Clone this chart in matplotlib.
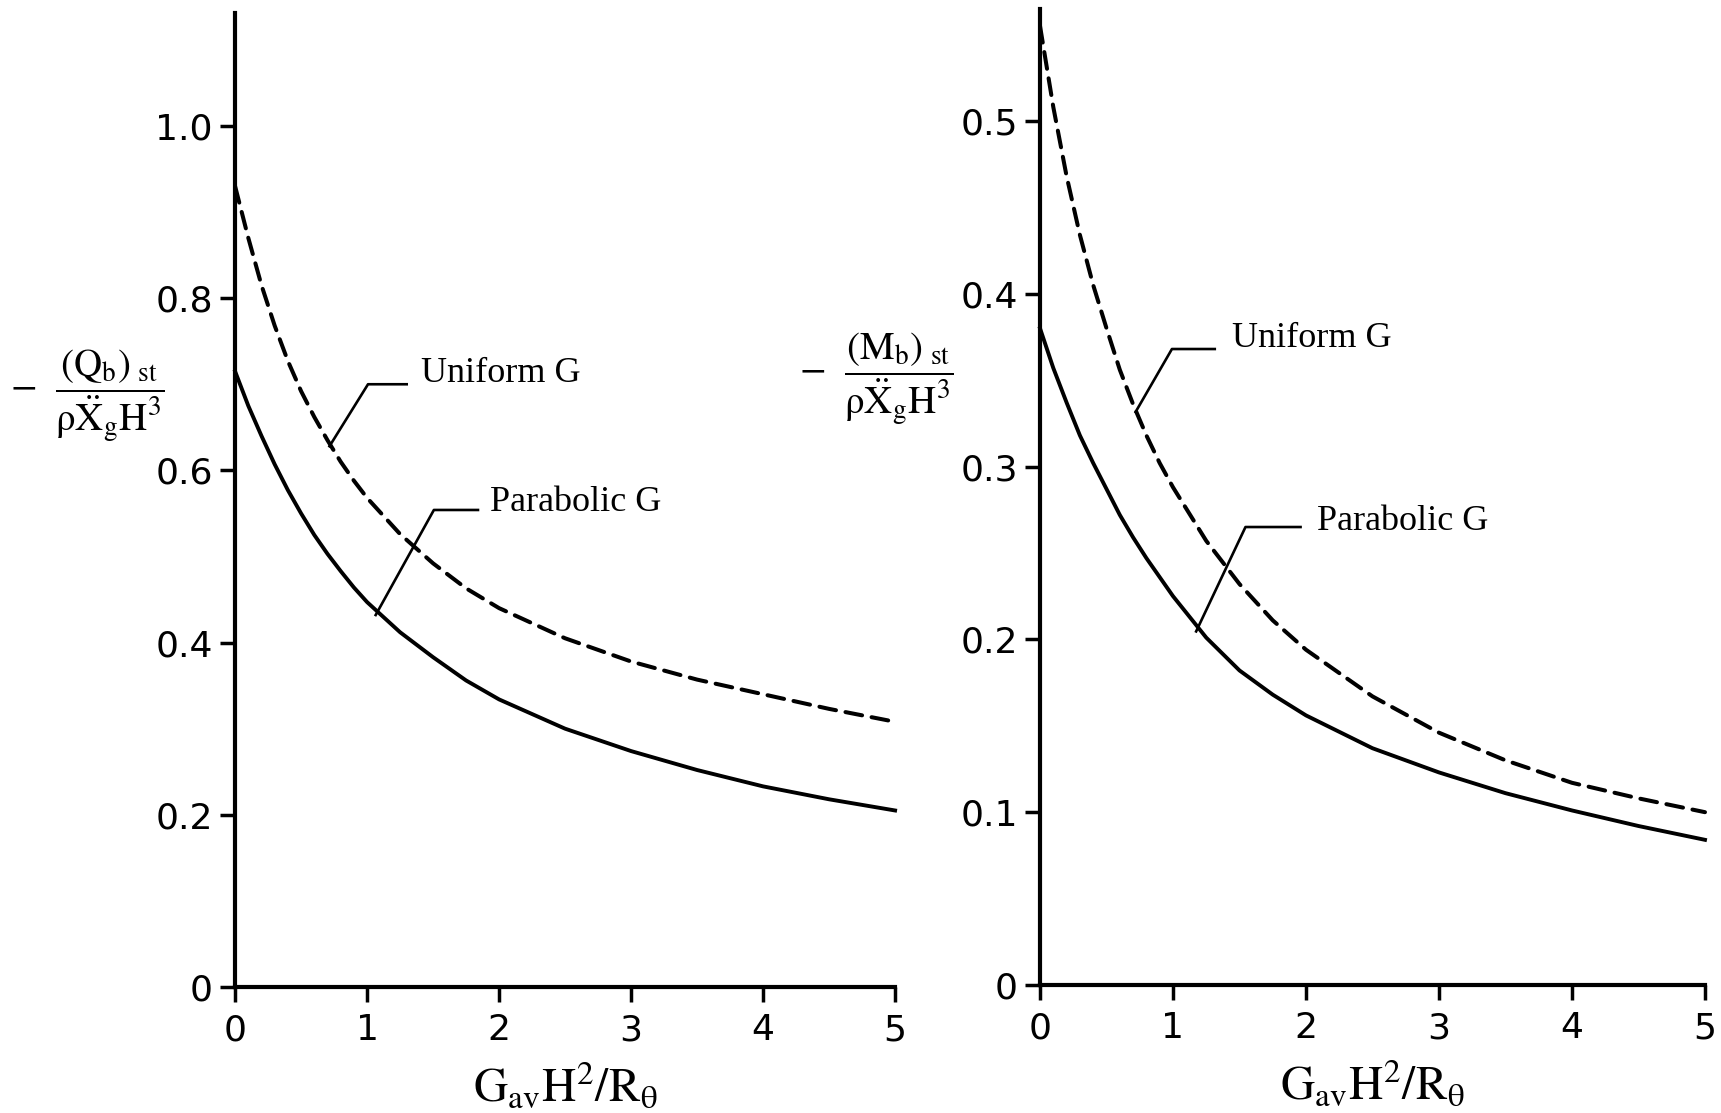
"""Static base shear and moment vs. wall flexibility, uniform and parabolic G."""

import matplotlib
matplotlib.use("Agg")
import matplotlib.pyplot as plt

plt.rcParams["mathtext.fontset"] = "stix"
plt.rcParams["mathtext.default"] = "rm"

X = [0, 0.1, 0.2, 0.3, 0.4, 0.5, 0.6, 0.7, 0.8, 0.9, 1.0,
     1.25, 1.5, 1.75, 2, 2.5, 3, 3.5, 4, 4.5, 5]

# base shear, left panel
SHEAR_UNIFORM = [0.93, 0.87, 0.815, 0.768, 0.727, 0.692, 0.662, 0.635, 0.61,
                 0.588, 0.568, 0.526, 0.492, 0.463, 0.44, 0.405, 0.378,
                 0.357, 0.34, 0.323, 0.308]
SHEAR_PARABOLIC = [0.715, 0.675, 0.64, 0.607, 0.577, 0.55, 0.525, 0.503,
                   0.483, 0.464, 0.447, 0.412, 0.383, 0.356, 0.334, 0.30,
                   0.274, 0.252, 0.233, 0.218, 0.205]

# base moment, right panel
MOMENT_UNIFORM = [0.555, 0.508, 0.468, 0.434, 0.405, 0.38, 0.356, 0.336,
                  0.318, 0.302, 0.288, 0.257, 0.232, 0.211, 0.194, 0.167,
                  0.146, 0.13, 0.117, 0.108, 0.10]
MOMENT_PARABOLIC = [0.38, 0.357, 0.337, 0.318, 0.302, 0.287, 0.272, 0.259,
                    0.247, 0.236, 0.225, 0.201, 0.182, 0.168, 0.156, 0.137,
                    0.123, 0.111, 0.101, 0.092, 0.084]

X_TICKS = [0, 1, 2, 3, 4, 5]
SHEAR_TICKS = [0, 0.2, 0.4, 0.6, 0.8, 1.0]
SHEAR_TICK_LABELS = ["0", "0.2", "0.4", "0.6", "0.8", "1.0"]
MOMENT_TICKS = [0, 0.1, 0.2, 0.3, 0.4, 0.5]
MOMENT_TICK_LABELS = ["0", "0.1", "0.2", "0.3", "0.4", "0.5"]

X_LABEL = r"$\mathrm{G_{av}H^2/R_\theta}$"
SHEAR_LABEL = r"$-\ \ \dfrac{(Q_b)_{\ st}}{\rho\ddot{X}_g H^3}$"
MOMENT_LABEL = r"$-\ \ \dfrac{(M_b)_{\ st}}{\rho\ddot{X}_g H^3}$"

# leader lines: (curve point, elbow, end) and label position
SHEAR_NOTES = [
    ("Uniform G", [(0.715, 0.628), (1.007, 0.700), (1.30, 0.700)], (1.41, 0.713)),
    ("Parabolic G", [(1.065, 0.432), (1.506, 0.554), (1.84, 0.554)], (1.93, 0.5625)),
]
MOMENT_NOTES = [
    ("Uniform G", [(0.719, 0.3316), (0.992, 0.368), (1.314, 0.368)], (1.446, 0.374)),
    ("Parabolic G", [(1.174, 0.2046), (1.545, 0.265), (1.959, 0.265)], (2.08, 0.268)),
]


def style_axes(axes, yticks, ylabels, ytop):
    """Bare left/bottom axes with outward ticks."""
    for side in ("top", "right"):
        axes.spines[side].set_visible(False)
    for side in ("left", "bottom"):
        axes.spines[side].set_linewidth(3)
    axes.set_xlim(0, 5)
    axes.set_ylim(0, ytop)
    axes.set_xticks(X_TICKS)
    axes.set_xticklabels([str(t) for t in X_TICKS])
    axes.set_yticks(yticks)
    axes.set_yticklabels(ylabels)
    axes.tick_params(direction="out", length=11, width=2.5, labelsize=26,
                     pad=5)
    axes.tick_params(axis="x", pad=8)
    for lab in axes.get_xticklabels() + axes.get_yticklabels():
        lab.set_fontfamily("DejaVu Sans")
    axes.set_xlabel(X_LABEL, fontsize=34, labelpad=10)


def draw_panel(axes, uniform, parabolic, notes):
    axes.plot(X, uniform, color="black", lw=2.9, dashes=(4.2, 2.4),
              dash_capstyle="round", clip_on=False)
    axes.plot(X, parabolic, color="black", lw=2.8, clip_on=False)
    for text, pts, pos in notes:
        axes.plot([p[0] for p in pts], [p[1] for p in pts], color="black",
                  lw=1.9)
        axes.text(pos[0], pos[1], text, fontsize=26, va="center", ha="left",
                  family="Liberation Serif")


def main() -> None:
    fig = plt.figure(figsize=(17.21, 11.13), dpi=100)
    ax_left = fig.add_axes([0.1366, 0.1132, 0.3835, 0.875])
    ax_right = fig.add_axes([0.6043, 0.115, 0.3864, 0.877])

    style_axes(ax_left, SHEAR_TICKS, SHEAR_TICK_LABELS, 1.131)
    style_axes(ax_right, MOMENT_TICKS, MOMENT_TICK_LABELS, 0.5648)

    draw_panel(ax_left, SHEAR_UNIFORM, SHEAR_PARABOLIC, SHEAR_NOTES)
    draw_panel(ax_right, MOMENT_UNIFORM, MOMENT_PARABOLIC, MOMENT_NOTES)

    fig.text(0.051, 0.645, SHEAR_LABEL, fontsize=28, ha="center", va="center")
    fig.text(0.509, 0.6595, MOMENT_LABEL, fontsize=28, ha="center",
             va="center")

    fig.savefig("out.png", dpi=100)


if __name__ == "__main__":
    main()
